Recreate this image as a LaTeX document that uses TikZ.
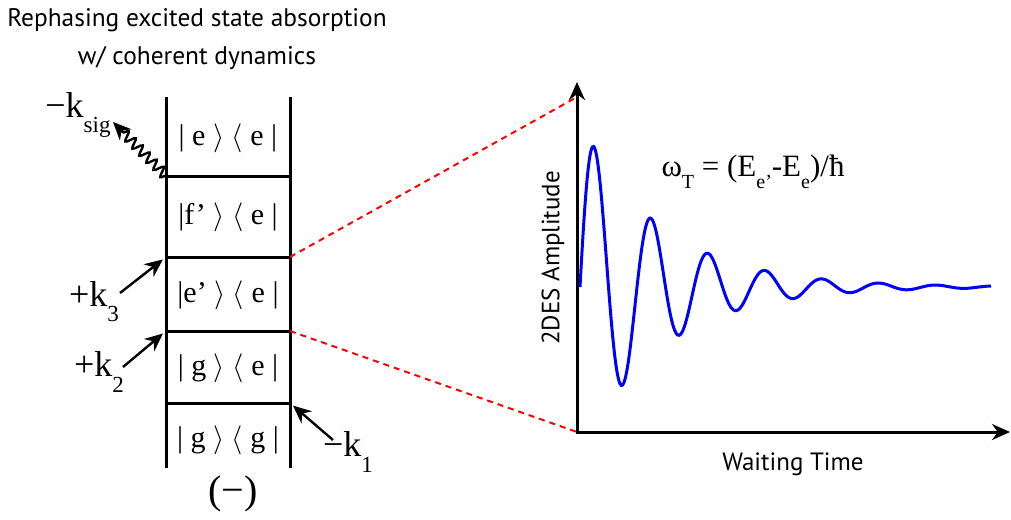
\documentclass[tikz,border=0pt]{standalone}
\usepackage{fontspec}
\setmainfont{Liberation Serif}
\setsansfont{PT Sans}
\usetikzlibrary{arrows.meta,decorations.pathmorphing}
\newcommand{\lowsub}[1]{\raisebox{-0.42em}{\fontsize{11.5}{12}\selectfont #1}}
\newcommand{\smallsub}[1]{\raisebox{-0.38em}{\fontsize{10}{10}\selectfont #1}}

\begin{document}
\begin{tikzpicture}[x=0.5pt,y=-0.5pt]
    \useasboundingbox (0,0) rectangle (1011,519);
    % ladder
    \coordinate (LT) at (166,97);
    \coordinate (LB) at (166,468);
    \coordinate (RT) at (290,97);
    \coordinate (RB) at (290,468);
    \draw[black,line width=1.5pt] (LT) -- (LB);
    \draw[black,line width=1.5pt] (RT) -- (RB);
    \foreach \y/\n in {176/A,257/B,331/C,403/D} {
      \coordinate (L\n) at (166,\y);
      \coordinate (R\n) at (290,\y);
      \draw[black,line width=1.5pt] (L\n) -- (R\n);
    }
    \node[font=\fontsize{15}{17}\selectfont] (ee) at (228,138) {| e $\rangle$ $\langle$ e |};
    \node[font=\fontsize{15}{17}\selectfont] (fe) at (228,217) {|f’ $\rangle$ $\langle$ e |};
    \node[font=\fontsize{15}{17}\selectfont] (ese) at (228,295) {|e’ $\rangle$ $\langle$ e |};
    \node[font=\fontsize{15}{17}\selectfont] (ge) at (228,368) {| g $\rangle$ $\langle$ e |};
    \node[font=\fontsize{15}{17}\selectfont] (gg) at (228,440) {| g $\rangle$ $\langle$ g |};
    \node[font=\fontsize{20}{22}\selectfont] (sign) at (233,494) {(−)};
    % field interactions
    \coordinate (ksigtip) at (113,122);
    \coordinate (k3tail) at (120,293);
    \coordinate (k2tail) at (123,367);
    \coordinate (k1tail) at (333,440);
    \draw[black,line width=1.2pt,-{Stealth[length=9pt,width=8pt]},decorate,
      decoration={snake,amplitude=2.4pt,segment length=5pt,post length=7pt}]
      (LA) -- (ksigtip);
    \draw[black,line width=1.2pt,-{Stealth[length=9pt,width=8pt]},shorten >=2pt] (k3tail) -- (LB);
    \draw[black,line width=1.2pt,-{Stealth[length=9pt,width=8pt]},shorten >=2pt] (k2tail) -- (LC);
    \draw[black,line width=1.2pt,-{Stealth[length=9pt,width=8pt]},shorten >=2pt] (k1tail) -- (RD);
    \node[font=\fontsize{18}{20}\selectfont] (ksig) at (78,115) {−k\lowsub{sig}};
    \node[font=\fontsize{18}{20}\selectfont] (k3) at (94,302) {+k\lowsub{3}};
    \node[font=\fontsize{18}{20}\selectfont] (k2) at (99,372) {+k\lowsub{2}};
    \node[font=\fontsize{18}{20}\selectfont] (k1) at (348,452) {−k\lowsub{1}};
    % zoom lines
    \coordinate (O) at (577,432);
    \coordinate (Ymark) at (577,97);
    \draw[red,line width=1pt,dash pattern=on 3pt off 2.5pt] (RB) -- (Ymark);
    \draw[red,line width=1pt,dash pattern=on 3pt off 2.5pt] (RC) -- (O);
    % axes
    \coordinate (Ytip) at (577,82);
    \coordinate (Xtip) at (1010,432);
    \draw[black,line width=1.5pt,{Stealth[length=9pt,width=8pt]}-{Stealth[length=9pt,width=8pt]}]
      (Ytip) -- (O) -- (Xtip);
    \node[font=\sffamily\fontsize{12.5}{14}\selectfont,rotate=90] (ylab) at (553,258) {2DES Amplitude};
    \node[font=\sffamily\fontsize{12.5}{14}\selectfont] (xlab) at (793,464) {Waiting Time};
    % signal
    \draw[blue,line width=1.5pt,smooth,samples=300,domain=580:991]
      plot (\x,{287-167*exp(-(\x-580)/80)*sin((\x-580)/57*360)});
    \node[font=\fontsize{15.5}{17}\selectfont] (freq) at (753,172)
      {ω\smallsub{T} = (E\smallsub{e’}-E\smallsub{e})/ħ};
    % title
    \node[font=\sffamily\fontsize{12.7}{19}\selectfont,align=center] (title) at (197,39)
      {Rephasing excited state absorption\\w/ coherent dynamics};
\end{tikzpicture}
\end{document}
